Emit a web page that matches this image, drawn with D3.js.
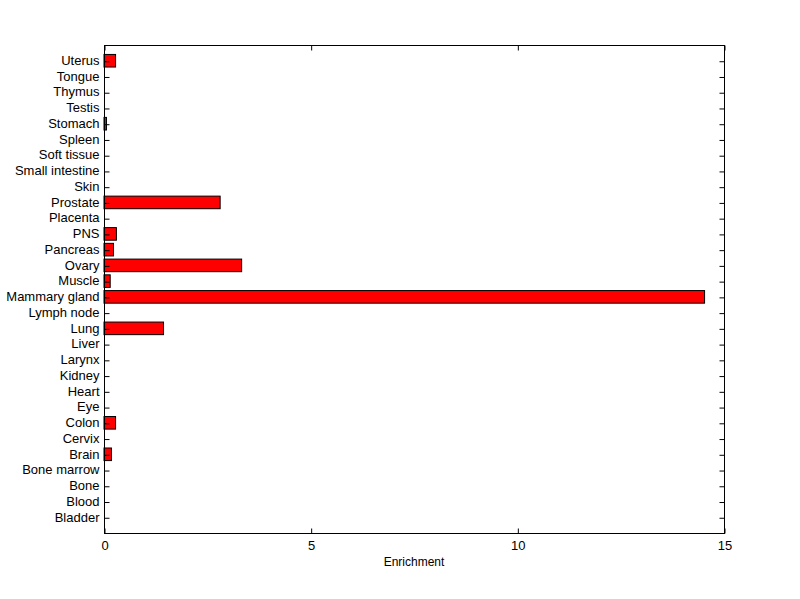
<!DOCTYPE html>
<html><head><meta charset="utf-8">
<script src="https://cdn.jsdelivr.net/npm/d3@7"></script>
<style>body{margin:0;background:#fff}svg{display:block}text{font-family:"Liberation Sans",Arial,sans-serif;font-size:13px;fill:#000}</style>
</head><body>
<script>
const categories = ["Bladder","Blood","Bone","Bone marrow","Brain","Cervix","Colon","Eye","Heart","Kidney","Larynx","Liver","Lung","Lymph node","Mammary gland","Muscle","Ovary","Pancreas","PNS","Placenta","Prostate","Skin","Small intestine","Soft tissue","Spleen","Stomach","Testis","Thymus","Tongue","Uterus"];
const values = [0,0,0,0,0.18,0,0.28,0,0,0,0,0,1.44,0,14.53,0.15,3.33,0.23,0.30,0,2.81,0,0,0,0,0.06,0,0,0,0.28];
const xTicks = [0,5,10,15];
const xLabel = "Enrichment";

const W=800,H=599, L=104, R=724, T=45, B=533;
const svg=d3.select("body").append("svg").attr("width",W).attr("height",H);
const x=d3.scaleLinear().domain([0,15]).range([L,R]);
const y=d3.scaleLinear().domain([0,categories.length+1]).range([B,T]);
const pitch=(B-T)/(categories.length+1);
const bh=pitch*0.8;

svg.append("g").selectAll("rect").data(values).join("rect")
  .attr("x",x(0)).attr("y",(d,i)=>y(i+1)-bh/2)
  .attr("width",d=>Math.max(0,x(d)-x(0))).attr("height",bh)
  .attr("fill",d=>d>0?"#ff0000":"none").attr("stroke",d=>d>0?"#000":"none").attr("stroke-width",1);

// frame
svg.append("rect").attr("x",L+0.5).attr("y",T+0.5).attr("width",R-L).attr("height",B-T)
  .attr("fill","none").attr("stroke","#000").attr("stroke-width",1);

// y axis left
const yAxisL=d3.axisLeft(y).tickValues(d3.range(1,categories.length+1)).tickFormat(d=>categories[d-1]).tickSizeInner(-5).tickSizeOuter(0).tickPadding(4);
const gl=svg.append("g").attr("transform",`translate(${L+0.5},0.5)`).call(yAxisL);
gl.select(".domain").remove();
gl.selectAll("text").attr("dx","-1").attr("dy","0.25em").style("font-size","13px");
const gr=svg.append("g").attr("transform",`translate(${R+0.5},0.5)`).call(d3.axisRight(y).tickValues(d3.range(1,categories.length+1)).tickSizeInner(-5).tickSizeOuter(0).tickFormat(""));
gr.select(".domain").remove();

// x axis
const gb=svg.append("g").attr("transform",`translate(0.5,${B+0.5})`).call(d3.axisBottom(x).tickValues(xTicks).tickSizeInner(-5).tickSizeOuter(0).tickPadding(7));
gb.select(".domain").remove();
gb.selectAll("text").style("font-size","13px");
const gt=svg.append("g").attr("transform",`translate(0.5,${T+0.5})`).call(d3.axisTop(x).tickValues(xTicks).tickSizeInner(-5).tickSizeOuter(0).tickFormat(""));
gt.select(".domain").remove();

svg.append("text").attr("x",(L+R)/2).attr("y",566).attr("text-anchor","middle").style("font-size","12px").text(xLabel);
</script>
</body></html>
